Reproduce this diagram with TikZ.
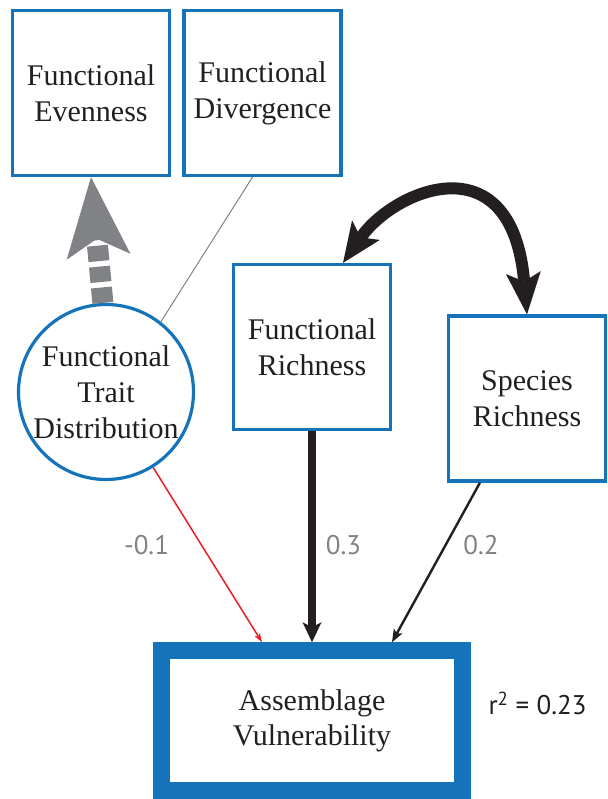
\documentclass[tikz,border=0pt]{standalone}
\usepackage{fontspec}
\newfontfamily\boxfont{LiberationSerif}[Extension=.ttf, UprightFont=*-Regular]
\newfontfamily\numfont{PT Sans}
\usetikzlibrary{arrows.meta,calc}
\definecolor{boxblue}{RGB}{21,115,186}
\definecolor{arrowgray}{RGB}{128,130,133}
\definecolor{nearblack}{RGB}{35,31,32}
\definecolor{pathred}{RGB}{237,28,36}

\begin{document}
\begin{tikzpicture}[x=1pt, y=1pt,
  var/.style={draw=boxblue, line width=3.2pt, fill=white, minimum width=157pt,
    minimum height=165pt, inner sep=0pt, align=center,
    font=\boxfont\fontsize{30}{36}\selectfont, text=nearblack},
  latent/.style={var, circle, minimum size=175pt},
  coef/.style={font=\numfont\fontsize{27}{30}\selectfont, text=arrowgray}]
\useasboundingbox (0,0) rectangle (607,799);

\node[var] (even) at (91,706) {Functional\\Evenness};
\node[var] (div) at (262.5,706) {Functional\\Divergence};
\node[latent] (dist) at (106,407) {Functional\\Trait\\Distribution};
\node[var] (fr) at (312,452) {Functional\\Richness};
\node[var] (sr) at (527,400.5) {Species\\Richness};
\node[var, line width=16.5pt, minimum width=301pt, minimum height=140pt,
  font=\boxfont\fontsize{30}{35}\selectfont] (vuln) at (312,78.5) {Assemblage\\Vulnerability};

\draw [arrowgray, line width=21pt, dash pattern=on 15.5pt off 5.5pt,
  -{Stealth[length=80pt, width=64pt, inset=18pt, line width=0pt]}]
  (dist.92) -- (even.south);
\draw [arrowgray, line width=1pt] (dist.52) -- ([xshift=-10pt]div.south);

\draw [nearblack, line width=12pt,
  {Stealth[length=40pt, width=34pt, inset=9pt, line width=0pt]}-{Stealth[length=42pt, width=35pt, inset=9pt, line width=0pt]}]
  ([xshift=31pt]fr.north) .. controls +(51.7,73.7) and +(-15.2,174.3) .. (sr.north);

\draw [pathred, line width=1.5pt,
  -{Stealth[length=9pt, width=6pt, inset=2pt, line width=0pt]}]
  (dist.-58) -- ([xshift=-50pt]vuln.north);
\draw [nearblack, line width=7.5pt,
  -{Stealth[length=20pt, width=19pt, inset=5pt, line width=0pt]}]
  (fr.south) -- (vuln.north);
\draw [nearblack, line width=2.4pt,
  -{Stealth[length=13pt, width=10pt, inset=3pt, line width=0pt]}]
  ([xshift=-47pt]sr.south) -- ([xshift=80pt]vuln.north);

\node[coef] (cdist) at (146.5,254) {-0.1};
\node[coef] (cfr) at (343.5,254) {0.3};
\node[coef] (csr) at (481,254) {0.2};
\node[coef, text=nearblack, anchor=base west] (rsq) at (485,84) {r\textsuperscript{2} = 0.23};
\end{tikzpicture}
\end{document}
